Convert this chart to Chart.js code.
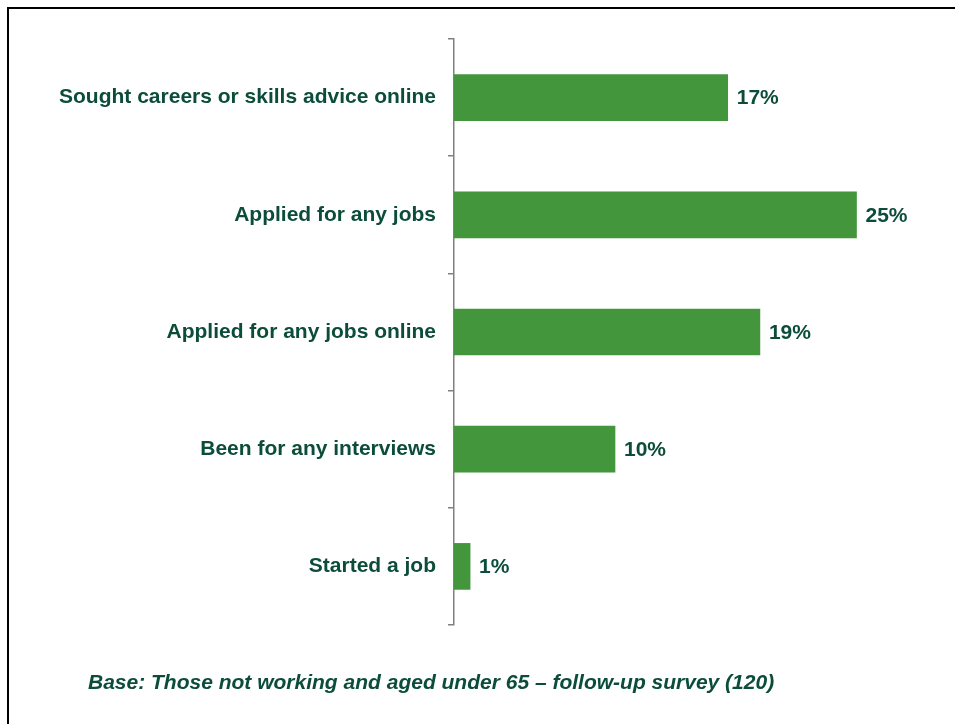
<!DOCTYPE html>
<html>
<head>
<meta charset="utf-8">
<script src="https://cdn.jsdelivr.net/npm/chart.js"></script>
<style>
  body { margin: 0; background: #fff; }
  #wrap { position: relative; width: 955px; height: 724px; overflow: hidden; }
  #frame { position: absolute; left: 7px; top: 7px; width: 960px; height: 730px;
           border-top: 2px solid #000; border-left: 2px solid #000; }
  #base { position: absolute; left: 88px; top: 670px; font: italic bold 21px "Liberation Sans", Arial, sans-serif;
          color: #0b4d3a; white-space: nowrap; }
</style>
</head>
<body>
<div id="wrap">
  <div id="frame"></div>
  <canvas id="chart"></canvas>
  <div id="base">Base: Those not working and aged under 65 – follow-up survey (120)</div>
</div>
<script>
const categories = [
  "Sought careers or skills advice online",
  "Applied for any jobs",
  "Applied for any jobs online",
  "Been for any interviews",
  "Started a job"
];
const values = [17, 25, 19, 10, 1];

const textColor = "#0b4d3a";
const barColor = "#43963b";
const font = { family: "'Liberation Sans', Arial, sans-serif", size: 21, weight: "bold" };

// value labels at the end of each bar
const barLabels = {
  id: "barLabels",
  afterDatasetsDraw(chart) {
    const ctx = chart.ctx;
    ctx.save();
    ctx.font = "bold 21px 'Liberation Sans', Arial, sans-serif";
    ctx.fillStyle = textColor;
    ctx.textBaseline = "middle";
    chart.getDatasetMeta(0).data.forEach((bar, i) => {
      ctx.fillText(values[i] + "%", bar.x + 9, bar.y + 1);
    });
    ctx.restore();
  }
};

const canvas = document.getElementById("chart");
canvas.width = 955; canvas.height = 724;

new Chart(canvas, {
  type: "bar",
  data: {
    labels: categories,
    datasets: [{
      data: values,
      backgroundColor: barColor,
      barThickness: 46
    }]
  },
  options: {
    indexAxis: "y",
    responsive: false,
    animation: false,
    layout: { padding: { top: 39, bottom: 99, right: 18, left: 0 } },
    plugins: { legend: { display: false }, tooltip: { enabled: false } },
    scales: {
      x: { display: false, min: 0, max: 30 },
      y: {
        afterFit(scale) { scale.width = 454; },
        border: { display: true, color: "#808080", width: 1.5 },
        grid: { drawOnChartArea: false, drawTicks: true, tickLength: 6, color: "#808080", lineWidth: 1.5, offset: true },
        ticks: { color: textColor, font: font, padding: 12 }
      }
    }
  },
  plugins: [barLabels]
});
</script>
</body>
</html>
